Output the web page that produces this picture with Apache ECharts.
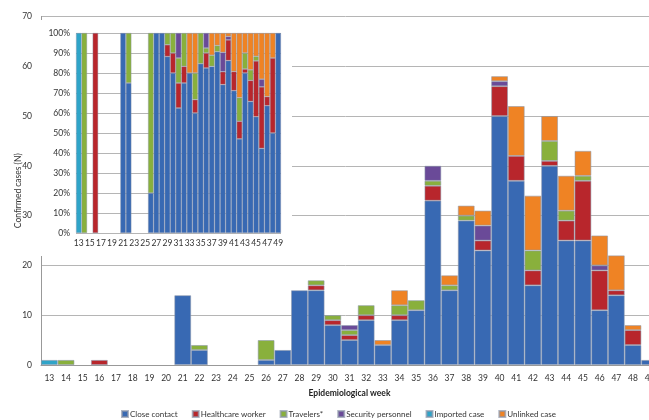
<!DOCTYPE html>
<html>
<head>
<meta charset="utf-8">
<script src="https://cdn.jsdelivr.net/npm/echarts@6/dist/echarts.min.js"></script>
<style>html,body{margin:0;padding:0;background:#fff}#c{width:649px;height:420px}</style>
</head>
<body>
<div id="c"></div>
<script>
const weeks = ['13','14','15','16','17','18','19','20','21','22','23','24','25','26','27','28','29','30','31','32','33','34','35','36','37','38','39','40','41','42','43','44','45','46','47','48','49'];
//                 13 14 15 16 17 18 19 20 21 22 23 24 25 26 27 28 29 30 31 32 33 34 35 36 37 38 39 40 41 42 43 44 45 46 47 48 49
const closeContact = [0, 0, 0, 0, 0, 0, 0, 0,14, 3, 0, 0, 0, 1, 3,15,15, 8, 5, 9, 4, 9,11,33,15,29,23,50,37,16,40,25,25,11,14, 4, 1];
const healthcare   = [0, 0, 0, 1, 0, 0, 0, 0, 0, 0, 0, 0, 0, 0, 0, 0, 1, 1, 1, 1, 0, 1, 0, 3, 0, 0, 2, 6, 5, 3, 1, 4,12, 8, 1, 3, 0];
const travelers    = [0, 1, 0, 0, 0, 0, 0, 0, 0, 1, 0, 0, 0, 4, 0, 0, 1, 1, 1, 2, 0, 2, 2, 1, 1, 1, 0, 0, 0, 4, 4, 2, 1, 0, 0, 0, 0];
const security     = [0, 0, 0, 0, 0, 0, 0, 0, 0, 0, 0, 0, 0, 0, 0, 0, 0, 0, 1, 0, 0, 0, 0, 3, 0, 0, 3, 1, 0, 0, 0, 0, 0, 1, 0, 0, 0];
const imported     = [1, 0, 0, 0, 0, 0, 0, 0, 0, 0, 0, 0, 0, 0, 0, 0, 0, 0, 0, 0, 0, 0, 0, 0, 0, 0, 0, 0, 0, 0, 0, 0, 0, 0, 0, 0, 0];
const unlinked     = [0, 0, 0, 0, 0, 0, 0, 0, 0, 0, 0, 0, 0, 0, 0, 0, 0, 0, 0, 0, 1, 3, 0, 0, 2, 2, 3, 1,10,11, 5, 7, 5, 6, 7, 1, 0];
const yTicks = [0, 70, 10];
const pctTicks = [0, 100, 10];

const seriesDefs = [
  {name:'Close contact', data: closeContact, color:'#3869b3'},
  {name:'Healthcare worker', data: healthcare, color:'#b8262c'},
  {name:'Travelers*', data: travelers, color:'#89b03c'},
  {name:'Security personnel', data: security, color:'#6a4a98'},
  {name:'Imported case', data: imported, color:'#2fa4c8'},
  {name:'Unlinked case', data: unlinked, color:'#ef8324'}
];
const totals = weeks.map((w,i)=>seriesDefs.reduce((s,d)=>s+d.data[i],0));
const FONT = 'Lato';
const series = [];
seriesDefs.forEach(d=>{
  series.push({
    name:d.name, type:'bar', stack:'main', xAxisIndex:0, yAxisIndex:0,
    barCategoryGap:'0%', z:2,
    itemStyle:{color:d.color, borderColor:'rgba(140,150,170,0.7)', borderWidth:0.8},
    data:d.data.map(v=>v===0?null:v)
  });
});
seriesDefs.forEach(d=>{
  series.push({
    name:d.name, type:'bar', stack:'pct', xAxisIndex:1, yAxisIndex:1,
    barCategoryGap:'0%', z:3,
    itemStyle:{color:d.color, borderColor:'rgba(140,150,170,0.7)', borderWidth:0.6},
    data:d.data.map((v,i)=>(v===0||totals[i]===0)?null:v/totals[i]*100)
  });
});

const chart = echarts.init(document.getElementById('c'), null, {renderer:'canvas'});
chart.setOption({
  animation:false,
  backgroundColor:'#fff',
  textStyle:{fontFamily:FONT},
  graphic:[{type:'rect', z:1, shape:{x:41, y:20, width:251, height:236}, style:{fill:'#fff'}}],
  legend:{
    left:116, top:405, itemWidth:6, itemHeight:6, itemGap:14, icon:'rect',
    textStyle:{fontSize:8, color:'#333', fontFamily:FONT, padding:[0,0,0,-3]},
    data:seriesDefs.map(d=>d.name)
  },
  grid:[
    {left:41, top:16.5, width:617, height:348.5, outerBoundsMode:'none', containLabel:false},
    {left:76, top:33, width:205, height:200, outerBoundsMode:'none', containLabel:false}
  ],
  xAxis:[
    {type:'category', gridIndex:0, data:weeks,
     name:'Epidemiological week', nameLocation:'middle', nameGap:24,
     nameTextStyle:{fontSize:8.5, fontWeight:'bold', color:'#222', fontFamily:FONT},
     axisLine:{lineStyle:{color:'#999'}}, axisTick:{show:false},
     axisLabel:{fontSize:8.5, color:'#333', margin:9, interval:0}},
    {type:'category', gridIndex:1, data:weeks, z:1.5,
     axisLine:{show:false}, axisTick:{show:false},
     axisLabel:{fontSize:8.5, color:'#333', margin:6, interval:1}}
  ],
  yAxis:[
    {type:'value', gridIndex:0, min:yTicks[0], max:yTicks[1], interval:yTicks[2],
     name:'Confirmed cases (N)', nameLocation:'middle', nameGap:18, nameMoveOverlap:false,
     nameTextStyle:{fontSize:8.5, color:'#333', fontFamily:FONT},
     axisLine:{show:true, lineStyle:{color:'#999'}}, axisTick:{show:false},
     axisLabel:{fontSize:8.5, color:'#333', margin:9},
     splitLine:{lineStyle:{color:'#b5b5b5'}}},
    {type:'value', gridIndex:1, min:pctTicks[0], max:pctTicks[1], interval:pctTicks[2], z:1.5,
     axisLine:{show:false}, axisTick:{show:false},
     axisLabel:{fontSize:8.5, color:'#333', margin:6, formatter:'{value}%'},
     splitLine:{lineStyle:{color:'#b5b5b5'}}}
  ],
  series:series
});
</script>
</body>
</html>
